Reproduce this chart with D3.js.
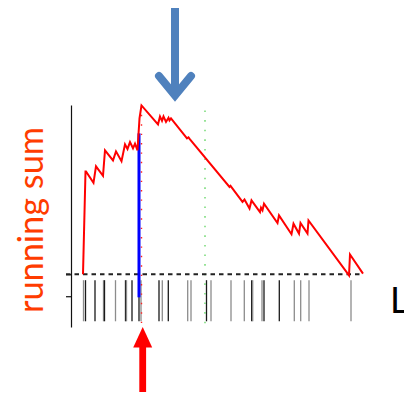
<!DOCTYPE html>
<html>
<head>
<meta charset="utf-8">
<script src="https://cdn.jsdelivr.net/npm/d3@7"></script>
<style>
  html, body { margin: 0; padding: 0; background: #fff; }
  svg { display: block; }
</style>
</head>
<body>
<svg id="chart" width="404" height="397"></svg>
<script>
// Running enrichment score: vertices of the walk (gene rank, score)
const curveRanks = [0, 2.5, 3, 10.5, 13, 20, 22, 30, 33, 38.5, 42, 44.5, 47, 50, 52, 54.5, 56.5, 58.5,
  75, 77, 79, 80.5, 83, 85.5, 86.5, 88, 104, 105.5, 107, 146.5, 147.5, 159.5, 161.5, 166.5, 168.5,
  177, 178, 179.5, 181, 194.5, 196, 208.5, 210.5, 216, 217.5, 224.5, 225.5, 266, 267, 280];
const curveScores = [0, 0.468, 0.468, 0.416, 0.491, 0.448, 0.564, 0.518, 0.559, 0.514, 0.591, 0.570, 0.601, 0.573, 0.594, 0.564, 0.709, 0.768,
  0.682, 0.718, 0.698, 0.718, 0.693, 0.712, 0.700, 0.709, 0.618, 0.623, 0.614, 0.397, 0.402, 0.329, 0.340, 0.299, 0.336,
  0.283, 0.303, 0.291, 0.321, 0.233, 0.268, 0.182, 0.230, 0.185, 0.233, 0.185, 0.245, -0.005, 0.090, 0.003];

// Positions of gene-set members in the ranked list, and their strength class
const hitRanks  = [0.5, 2.5, 12, 20.5, 21.5, 32.5, 42.5, 43.5, 49, 56, 58, 76, 79.3, 85.3, 104.7, 108,
  123.5, 128, 148, 161.3, 168.7, 169.7, 179, 181, 196.3, 211.3, 217.7, 226, 268];
const hitClass  = ["weak", "strong", "strong", "weak", "strong", "weak", "strong", "weak", "strong", "strong", "weak", "strong", "weak", "strong", "weak", "weak",
  "strong", "weak", "weak", "weak", "strong", "weak", "weak", "strong", "strong", "weak", "weak", "weak", "weak"];

// Axis settings
const rankDomain = [0, 280];
const scoreDomain = [-0.24, 0.77];
const scoreTicks = [0, -0.1];

// Landmarks
const maxRank = 58.5;          // rank of the maximum deviation
const leadingRank = 56;        // last leading-edge member
const leadingTop = 0.641;      // extent of the leading-edge marker
const leadingBottom = -0.105;
const midRank = 122;           // middle of the ranked list

const axisLabel = "running sum";
const listLabel = "L";

const svg = d3.select("#chart");

const x = d3.scaleLinear().domain(rankDomain).range([83, 363]);
const y = d3.scaleLinear().domain(scoreDomain).range([327, 105]);

// y axis with bare ticks
const yAxis = d3.axisLeft(y).tickValues(scoreTicks).tickSize(5).tickSizeOuter(0).tickFormat("");
const gAxis = svg.append("g").attr("transform", "translate(71,0)").call(yAxis);
gAxis.select(".domain").attr("stroke", "#111").attr("stroke-width", 1.2);
gAxis.selectAll(".tick line").attr("stroke", "#111").attr("stroke-width", 1.2);

// hit ticks
const tickTop = y(-0.027), tickBottom = y(-0.214);
const hitColor = d3.scaleOrdinal().domain(["strong", "weak"]).range(["#1a1a1a", "#8c8c8c"]);
svg.append("g").selectAll("line").data(hitRanks).join("line")
  .attr("x1", d => x(d)).attr("x2", d => x(d))
  .attr("y1", tickTop).attr("y2", tickBottom)
  .attr("stroke", (d, i) => hitColor(hitClass[i]))
  .attr("stroke-width", 1.3);

// middle-of-list marker
svg.append("line")
  .attr("x1", x(midRank)).attr("x2", x(midRank))
  .attr("y1", y(0.745)).attr("y2", y(-0.245))
  .attr("stroke", "#7ddc7d").attr("stroke-width", 1.6)
  .attr("stroke-dasharray", "1.6,8");

// zero line
svg.append("line")
  .attr("x1", 66).attr("x2", x(280))
  .attr("y1", y(0)).attr("y2", y(0))
  .attr("stroke", "#222").attr("stroke-width", 1.8)
  .attr("stroke-dasharray", "4.5,4");

// maximum-deviation marker
svg.append("line")
  .attr("x1", x(maxRank)).attr("x2", x(maxRank))
  .attr("y1", y(0.768)).attr("y2", y(-0.245))
  .attr("stroke", "#ff2020").attr("stroke-width", 1.4)
  .attr("stroke-dasharray", "1.4,8");

// leading-edge marker
svg.append("rect")
  .attr("x", x(leadingRank) - 1.5).attr("width", 3)
  .attr("y", y(leadingTop)).attr("height", y(leadingBottom) - y(leadingTop))
  .attr("fill", "#0000ff");

// running sum curve
const line = d3.line().x(d => x(d[0])).y(d => y(d[1]));
svg.append("path")
  .datum(d3.zip(curveRanks, curveScores))
  .attr("d", line)
  .attr("fill", "none")
  .attr("stroke", "#ff0000")
  .attr("stroke-width", 2)
  .attr("stroke-linejoin", "miter");

// axis title
svg.append("text")
  .attr("transform", "translate(43,220) rotate(-90)")
  .attr("text-anchor", "middle")
  .attr("font-family", "Lato, 'Open Sans', sans-serif")
  .attr("font-size", 34)
  .attr("fill", "#ff3c00")
  .attr("textLength", 186)
  .attr("lengthAdjust", "spacingAndGlyphs")
  .text(axisLabel);

// list label
svg.append("text")
  .attr("x", 390).attr("y", 313)
  .attr("font-family", "Lato, 'Open Sans', sans-serif")
  .attr("font-size", 36)
  .attr("fill", "#000")
  .text(listLabel);

// arrow pointing at the peak
const peakX = x(maxRank) + 33.5;
svg.append("line")
  .attr("x1", peakX).attr("x2", peakX).attr("y1", 8).attr("y2", 94)
  .attr("stroke", "#4f81bd").attr("stroke-width", 8);
svg.append("polyline")
  .attr("points", [[peakX - 16, 76], [peakX, 95.5], [peakX + 16, 76]].map(p => p.join(",")).join(" "))
  .attr("fill", "none")
  .attr("stroke", "#4f81bd").attr("stroke-width", 8)
  .attr("stroke-linecap", "round").attr("stroke-linejoin", "miter");

// arrow pointing at the leading-edge member
const ax = x(maxRank) + 1.2;
svg.append("path")
  .attr("d", `M${ax - 9.5},347.5 L${ax},327 L${ax + 9.5},347.5 Z`)
  .attr("fill", "#ff0000");
svg.append("rect")
  .attr("x", ax - 3.4).attr("width", 6.8)
  .attr("y", 347).attr("height", 45)
  .attr("fill", "#ff0000");
</script>
</body>
</html>
